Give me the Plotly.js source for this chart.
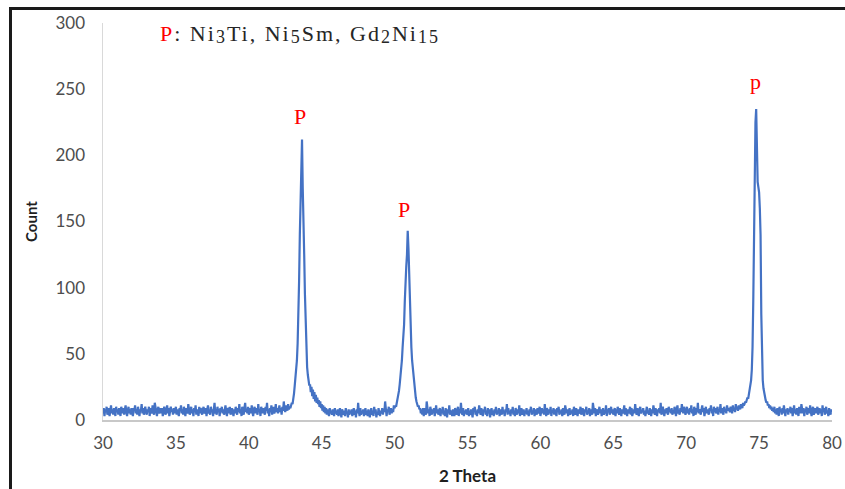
<!DOCTYPE html>
<html><head><meta charset="utf-8">
<script src="https://cdn.plot.ly/plotly-3.0.1.min.js"></script>
<style>
html,body{margin:0;padding:0;background:#fff;}
#wrap{position:relative;width:845px;height:489px;overflow:hidden;}
#chart{width:845px;height:489px;}
#frame{position:absolute;left:9px;top:7px;width:900px;height:600px;border-left:3px solid #1a1a1a;border-top:3px solid #1a1a1a;pointer-events:none;}
#chart .annotation[data-index="3"] text{letter-spacing:2px;}
</style>
</head><body>
<div id="wrap"><div id="chart"></div><div id="frame"></div></div>
<script>
// 2-theta sampled from 30 with step 0.05 (20 samples per degree)
const thetaStart = 30;
const thetaStep = 0.05;
const c30 = [5,9,3,8,6,10,4,7,9,3,6,11,5,8,4,9,7,3,10,6];
const c31 = [8,4,9,6,3,10,7,5,9,4,8,11,6,3,7,10,5,8,4,9];
const c32 = [6,3,9,7,11,5,8,4,10,6,3,8,7,12,5,9,4,7,10,6];
const c33 = [4,8,6,10,3,9,7,5,11,8,4,13,9,6,3,8,10,5,7,9];
const c34 = [5,9,3,7,10,6,4,8,11,5,9,3,7,10,6,8,4,9,5,7];
const c35 = [10,4,8,6,3,9,7,11,5,8,4,10,6,3,9,7,5,12,8,4];
const c36 = [7,10,5,8,3,9,6,11,4,8,7,3,10,5,9,6,4,8,10,5];
const c37 = [6,9,3,8,11,5,7,4,10,6,8,3,9,13,5,7,4,10,6,8];
const c38 = [3,9,6,10,5,8,4,7,11,6,3,9,8,5,10,4,7,9,6,3];
const c39 = [8,5,10,7,4,9,6,12,5,8,3,10,7,4,9,13,6,8,5,10];
const c40 = [4,7,9,5,11,6,3,8,10,5,9,7,4,12,6,8,3,10,7,5];
const c41 = [9,6,4,10,7,13,5,8,3,9,6,11,4,8,10,5,7,12,6,9];
const c42 = [5,8,11,6,9,4,10,7,14,8,6,11,9,7,12,8,10,9,11,13];
const c43 = [12,15,20,26,32,38,45,58,75,105,140,175,200,212,175,158,125,95,72,52];
const c44 = [40,34,30,26,27,21,25,18,23,16,21,14,19,13,17,12,15,10,14,9];
const c45 = [12,7,11,6,10,5,9,4,8,6,3,9,5,7,4,8,6,3,9,5];
const c46 = [7,4,8,3,6,9,5,2,8,6,4,7,3,9,5,6,2,8,4,7];
const c47 = [5,8,3,6,9,4,7,2,8,5,13,6,3,9,4,7,5,8,3,6];
const c48 = [9,4,7,3,8,5,2,6,9,4,7,3,10,5,8,2,6,4,9,5];
const c49 = [3,7,5,9,4,8,6,14,5,3,8,6,10,4,7,9,5,8,6,11];
const c50 = [9,11,10,13,15,17,22,27,32,38,45,55,63,72,90,108,116,125,143,130];
const c51 = [105,85,70,55,45,38,32,27,22,17,14,12,10,11,8,9,5,8,4,9];
const c52 = [3,9,6,4,14,7,5,8,3,10,6,4,8,5,9,3,7,11,5,8];
const c53 = [4,6,9,3,8,5,10,4,7,3,9,6,2,8,5,11,4,7,6,3];
const c54 = [8,5,3,9,6,4,7,10,3,8,5,13,6,4,9,3,7,5,8,4];
const c55 = [6,9,3,7,4,8,5,2,9,6,10,4,7,3,8,5,11,6,4,9];
const c56 = [5,3,8,6,10,4,7,3,9,5,8,2,6,9,4,7,3,8,5,10];
const c57 = [4,7,5,9,3,8,6,4,10,5,7,3,8,6,12,4,9,5,7,3];
const c58 = [8,5,10,4,7,3,9,6,4,8,5,11,3,7,9,4,6,8,3,7];
const c59 = [5,9,4,7,3,8,6,10,4,7,5,9,3,8,6,4,9,5,7,10];
const c60 = [3,7,9,5,8,4,12,6,3,9,7,4,8,5,10,3,7,6,9,4];
const c61 = [8,5,3,9,6,10,4,7,5,8,3,9,6,4,11,7,5,8,3,6];
const c62 = [9,4,7,5,8,3,10,6,4,9,7,3,8,5,6,10,4,7,9,5];
const c63 = [3,8,6,10,4,7,5,9,3,8,6,4,13,7,5,9,3,8,6,4];
const c64 = [7,10,5,8,3,6,9,4,7,5,11,3,8,6,9,4,7,10,5,8];
const c65 = [4,6,9,3,8,5,10,7,4,9,6,3,8,5,7,11,4,9,6,3];
const c66 = [8,5,7,10,4,9,3,6,8,5,12,7,4,9,6,3,8,10,5,7];
const c67 = [6,9,4,7,3,8,10,5,7,4,9,6,3,8,5,11,7,4,9,6];
const c68 = [3,8,6,9,5,13,4,7,10,6,3,8,5,9,7,4,10,6,8,5];
const c69 = [9,4,7,5,10,6,3,8,11,5,7,4,9,6,12,8,5,10,6,4];
const c70 = [7,10,5,8,4,9,6,11,5,8,3,10,7,4,9,6,13,5,8,6];
const c71 = [4,8,11,6,9,3,7,10,5,8,6,4,9,7,11,5,8,3,10,6];
const c72 = [9,5,7,10,4,8,6,12,5,9,7,4,10,6,8,5,11,7,9,6];
const c73 = [6,10,8,5,11,7,9,6,12,8,10,7,11,9,8,12,10,9,13,11];
const c74 = [12,14,13,15,17,16,19,21,25,30,38,55,90,140,190,225,235,200,180,176];
const c75 = [172,160,140,80,45,30,24,20,17,15,13,14,11,12,9,11,8,10,7,9];
const c76 = [6,10,5,8,4,9,7,3,10,6,8,4,9,5,11,7,3,8,6,9];
const c77 = [4,8,6,10,5,9,3,7,11,5,8,4,9,6,3,10,7,5,12,8];
const c78 = [5,9,3,8,6,10,4,7,9,5,11,6,3,8,10,4,7,9,5,8];
const c79 = [10,4,7,9,5,8,3,11,6,9,4,8,10,5,7,3,9,6,4,8];
const c80 = [6];
const counts = [].concat(c30,c31,c32,c33,c34,c35,c36,c37,c38,c39,c40,c41,c42,c43,c44,c45,c46,c47,c48,c49,
  c50,c51,c52,c53,c54,c55,c56,c57,c58,c59,c60,c61,c62,c63,c64,c65,c66,c67,c68,c69,
  c70,c71,c72,c73,c74,c75,c76,c77,c78,c79,c80);

const xTicks = [30,35,40,45,50,55,60,65,70,75,80];
const yTicks = [0,50,100,150,200,250,300];
const peakLabels = ['P','P','p'];
const peakLabelX = [43.5, 50.65, 74.72];
const peakLabelY = [229, 159, 256];
const sb = d => '<span style="font-size:18px;baseline-shift:-2px">' + d + '</span>';
const phaseNote = '<span style="color:#ff0000">P</span>: Ni' + sb('3') + 'Ti, Ni' + sb('5') + 'Sm, Gd' + sb('2') + 'Ni' + sb('15');

const trace = {
  type: 'scatter', mode: 'lines',
  x0: thetaStart, dx: thetaStep, y: counts,
  line: {color: '#4472c4', width: 2.2},
  hoverinfo: 'x+y'
};

const annotations = peakLabels.map((t, i) => ({
  x: peakLabelX[i], y: peakLabelY[i], xref: 'x', yref: 'y', text: t, showarrow: false,
  font: {family: 'Liberation Serif, serif', size: 22, color: '#ff0000'}
}));
annotations.push({
  x: 35.4, y: 292, xref: 'x', yref: 'y', xanchor: 'left', text: phaseNote, showarrow: false,
  font: {family: 'Liberation Serif, serif', size: 22, color: '#262626'}
});

const layout = {
  width: 845, height: 489,
  margin: {l: 103, r: 13, t: 23, b: 69},
  paper_bgcolor: '#fff', plot_bgcolor: '#fff',
  showlegend: false,
  font: {family: 'Lato, sans-serif', color: '#595959', size: 17},
  xaxis: {
    range: [30, 80], tickvals: xTicks, ticktext: xTicks.map(String),
    showgrid: false, zeroline: false, showline: true, linecolor: '#c8c8c8', linewidth: 1.5,
    ticks: 'outside', ticklen: 7, tickcolor: 'rgba(0,0,0,0)',
    tickfont: {family: 'Lato, sans-serif', size: 17, color: '#4d4d4d'},
    title: {text: '2 Theta', standoff: 18, font: {family: 'Lato, sans-serif', size: 17, color: '#1f1f1f', weight: 'bold'}}
  },
  yaxis: {
    range: [0, 300], tickvals: yTicks, ticktext: yTicks.map(String),
    showgrid: false, zeroline: false, showline: true, linecolor: '#d9d9d9', linewidth: 1.5,
    ticks: 'outside', ticklen: 13, tickcolor: 'rgba(0,0,0,0)',
    tickfont: {family: 'Lato, sans-serif', size: 17, color: '#4d4d4d'},
    title: {text: 'Count', standoff: 14, font: {family: 'Lato, sans-serif', size: 15, color: '#1f1f1f', weight: 'bold'}}
  },
  annotations: annotations
};

Plotly.newPlot('chart', [trace], layout, {displayModeBar: false, staticPlot: true});
</script>
</body></html>
